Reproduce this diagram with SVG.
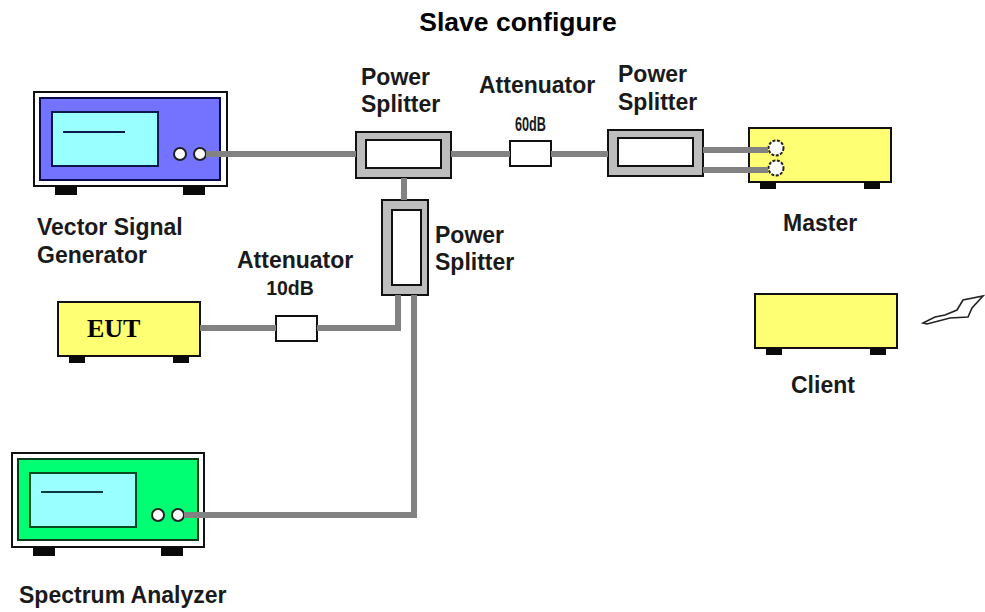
<svg xmlns="http://www.w3.org/2000/svg" width="985" height="612" viewBox="0 0 985 612">
<style>
.o{stroke:#111;stroke-width:2}
.w{fill:#fff}.y{fill:#ffff73}.g{fill:#bdbdbd}
.ft{fill:#0a0a0a;stroke:none}
.scr{fill:#99ffff;stroke:#0a1a50;stroke-width:2}
.c{fill:#fff;stroke:#222;stroke-width:2}
.cn{fill:none;stroke:#828282;stroke-width:6}
text{font-family:"Liberation Sans",Arial,sans-serif;font-weight:bold;fill:#1a1a1a;font-size:23px}
</style>
<rect width="985" height="612" fill="#fff"/>
<text id="title" x="518" y="31" text-anchor="middle" style="font-size:26.5px;fill:#000">Slave configure</text>
<g id="vector-signal-generator">
<rect class="o w" x="34" y="92" width="193" height="94"/>
<rect x="40" y="98" width="180" height="82" fill="#7373ff" stroke="#0a0a50" stroke-width="2"/>
<rect class="scr" x="52" y="112" width="106" height="54"/>
<path d="M63 132H125" stroke="#0a1a50" stroke-width="2"/>
<circle class="c" cx="180" cy="154" r="6"/><circle class="c" cx="200" cy="154" r="6"/>
<rect class="ft" x="55" y="186" width="22" height="9"/><rect class="ft" x="183" y="186" width="22" height="9"/>
<text x="37" y="235">Vector Signal</text><text x="37" y="263">Generator</text>
</g>
<g id="splitter-1">
<rect class="o g" x="356" y="132" width="95" height="46"/>
<rect class="o w" x="366" y="140" width="75" height="28"/>
<text x="361" y="85">Power</text><text x="361" y="112">Splitter</text>
</g>
<g id="attenuator-60">
<rect class="o w" x="510" y="141" width="41" height="25"/>
<text x="479" y="93">Attenuator</text>
<text x="515" y="131" style="font-size:20px" textLength="31" lengthAdjust="spacingAndGlyphs">60dB</text>
</g>
<g id="splitter-2">
<rect class="o g" x="608" y="130" width="95" height="46"/>
<rect class="o w" x="618" y="138" width="75" height="28"/>
<text x="618" y="82">Power</text><text x="618" y="110">Splitter</text>
</g>
<g id="splitter-3">
<rect class="o g" x="382" y="200" width="46" height="95"/>
<rect class="o w" x="392" y="210" width="29" height="75"/>
<text x="435" y="243">Power</text><text x="435" y="270">Splitter</text>
</g>
<g id="master">
<rect class="o y" x="749" y="128" width="142" height="54"/>
<rect class="ft" x="760" y="182" width="16" height="7"/><rect class="ft" x="864" y="182" width="16" height="7"/>
<circle class="c" cx="776" cy="148" r="7.5" stroke-dasharray="3 1.5"/><circle class="c" cx="776" cy="168" r="7.5" stroke-dasharray="3 1.5"/>
<text x="783" y="231">Master</text>
</g>
<g id="client">
<rect class="o y" x="755" y="294" width="142" height="54"/>
<rect class="ft" x="766" y="348" width="16" height="7"/><rect class="ft" x="870" y="348" width="16" height="7"/>
<text x="791" y="393">Client</text>
<path d="M923 323L935 317L945 315L957 310L963 300L983 296L972 308L968 317L950 318L927 324Z" fill="#fff" stroke="#222" stroke-width="1.6"/>
</g>
<g id="attenuator-10">
<rect class="o w" x="276" y="316" width="41" height="25"/>
<text x="237" y="268">Attenuator</text>
<text x="290" y="295" text-anchor="middle" style="font-size:19.5px">10dB</text>
</g>
<g id="eut">
<rect class="o y" x="58" y="302" width="142" height="54"/>
<rect class="ft" x="69" y="356" width="16" height="7"/><rect class="ft" x="173" y="356" width="16" height="7"/>
<text x="87" y="337" style="font-family:'Liberation Serif',serif;font-size:26px;fill:#000">EUT</text>
</g>
<g id="spectrum-analyzer">
<rect class="o w" x="12" y="453" width="192" height="94"/>
<rect x="18" y="459" width="180" height="81" fill="#00ff73" stroke="#0a3a1a" stroke-width="2"/>
<rect x="30" y="473" width="106" height="54" fill="#99ffff" stroke="#0a4a20" stroke-width="2"/>
<path d="M41 492H103" stroke="#0a3a40" stroke-width="2"/>
<circle class="c" cx="158" cy="515" r="6"/><circle class="c" cx="178" cy="515" r="6"/>
<rect class="ft" x="33" y="547" width="22" height="9"/><rect class="ft" x="161" y="547" width="22" height="9"/>
<text x="19" y="603">Spectrum Analyzer</text>
</g>
<g id="connectors">
<path class="cn" d="M206 154H356"/>
<path class="cn" d="M451 154H510"/>
<path class="cn" d="M551 154H608"/>
<path class="cn" d="M404 178V200"/>
<path class="cn" d="M703 150H768"/>
<path class="cn" d="M703 170H768"/>
<path class="cn" d="M200 328H276"/>
<path class="cn" d="M317 328H398V295"/>
<path class="cn" d="M184 515H414V295"/>
</g>
</svg>
